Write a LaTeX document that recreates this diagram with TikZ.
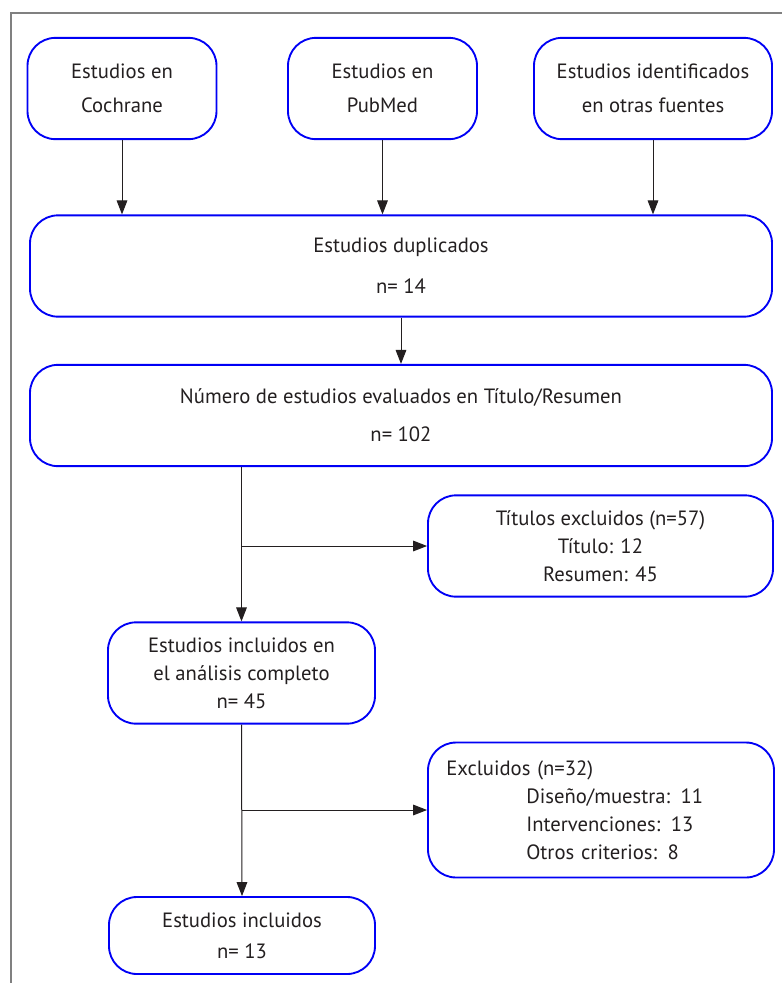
\documentclass[tikz,border=0pt]{standalone}
\usepackage{fontspec}
\setmainfont{PT Sans}
\usepackage{tikz}
\usetikzlibrary{arrows.meta}

\definecolor{boxblue}{RGB}{0,0,245}
\definecolor{inkgray}{RGB}{35,31,32}

\begin{document}
\begin{tikzpicture}[x=0.75pt, y=-0.75pt,
  box/.style={draw=boxblue, line width=1.4pt, rounded corners=21pt, align=center,
    text=inkgray, font=\fontsize{15.5pt}{21pt}\selectfont, minimum height=76pt, inner sep=4pt},
  arr/.style={draw=inkgray, line width=0.75pt, -{Triangle[length=10.5pt,width=8pt]}},
  link/.style={draw=inkgray, line width=0.75pt}]

\useasboundingbox (0,0) rectangle (782,983);
\draw[gray, line width=0.9pt] (11,983) -- (11,13) -- (782,13);

\node [box, minimum width=141.75pt] (cochrane) at (122,88.5) {Estudios en\\[4.5pt]Cochrane};
\node [box, minimum width=141.75pt] (pubmed) at (382.5,88.5) {Estudios en\\[4.5pt]PubMed};
\node [box, minimum width=178.5pt] (otras) at (653,88.5) {Estudios identificados\\[4.5pt]en otras fuentes};

\node [box, minimum width=556.5pt] (dup) at (401,266) {Estudios duplicados\\[9.75pt]n= 14};
\node [box, minimum width=556.5pt] (eval) at (401,415.5) {Número de estudios evaluados en Título/Resumen\\[7.5pt]n= 102};

\node [box, minimum width=258.75pt] (titexc) at (600.5,546) {Títulos excluidos (n=57)\\Título: 12\\Resumen: 45};
\node [box, minimum width=200.25pt] (compl) at (241.5,673) {Estudios incluidos en\\el análisis completo\\n= 45};

\node [box, minimum width=259.5pt, minimum height=100.5pt, align=left, text width=232pt, inner sep=13.5pt] (excl) at (601,810)
  {Excluidos (n=32)\\\hspace*{60pt}Diseño/muestra: 11\\\hspace*{60pt}Intervenciones: 13\\\hspace*{60pt}Otros criterios: 8};

\node [box, minimum width=199.5pt, minimum height=57.75pt] (final) at (242,935.5) {Estudios incluidos\\[2.25pt]n= 13};

\draw[arr] (cochrane.south) -- (cochrane.south |- dup.north);
\draw[arr] (pubmed.south) -- (pubmed.south |- dup.north);
\draw[arr] (otras.south) -- (otras.south |- dup.north);
\draw[arr] (dup.south) -- (eval.north);

\draw[arr] (compl.north |- eval.south) -- (compl.north);
\draw[arr] (compl.north |- titexc.west) -- (titexc.west);

\draw[arr] (compl.south) -- (final.north);
\draw[arr] (compl.south |- excl.west) -- (excl.west);

\end{tikzpicture}
\end{document}
